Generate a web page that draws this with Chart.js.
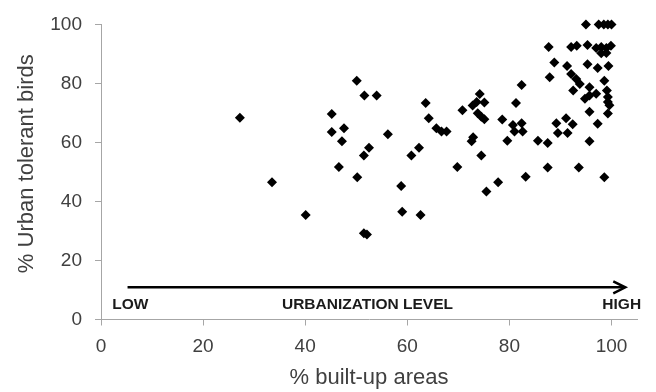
<!DOCTYPE html>
<html>
<head>
<meta charset="utf-8">
<script src="https://cdn.jsdelivr.net/npm/chart.js@4.4.1/dist/chart.umd.min.js"></script>
<style>
  html, body { margin: 0; padding: 0; background: #ffffff; }
  #wrap { width: 656px; height: 392px; position: relative; }
</style>
</head>
<body>
<div id="wrap"><canvas id="chart" width="656" height="392"></canvas></div>
<script>
// % of built-up area around each site
const builtUp = [
  27.2, 33.5, 40.1, 45.2, 45.2, 47.6, 47.2, 46.6, 50.1, 51.6,
  54.0, 52.5, 51.5, 56.2, 50.2, 51.5, 52.1, 58.8, 59.0, 62.6,
  60.8, 62.3, 63.6, 64.2, 65.7, 66.7, 67.7, 69.8, 70.8, 72.8,
  73.6, 74.2, 75.1, 73.8, 74.5, 75.1, 72.9, 72.6, 74.5, 75.5,
  77.8, 78.6, 79.6, 80.7, 82.4, 81.0, 82.6, 81.3, 82.4, 83.2,
  85.6, 87.5, 87.5, 87.7, 87.9, 88.8, 89.2, 89.5, 91.1, 91.4,
  92.4, 91.3, 92.1, 93.1, 93.8, 92.5, 93.6, 92.1, 93.2, 95.3,
  97.0, 98.0, 99.0, 99.9, 98.0, 99.0, 95.3, 97.3, 99.4, 95.0,
  97.5, 98.5, 99.3, 100, 95.7, 98.6, 94.8, 95.7, 97.0, 99.1,
  99.3, 99.3, 99.6, 95.7, 99.3, 97.3, 95.7, 98.6
];

// % of urban-tolerant bird species at the same sites
const tolerantBirds = [
  68.4, 46.5, 35.4, 69.6, 63.5, 64.8, 60.4, 51.7, 80.9, 75.9,
  75.9, 58.2, 55.6, 62.8, 48.2, 29.2, 28.8, 45.2, 36.5, 35.4,
  55.6, 58.2, 73.4, 68.2, 64.8, 63.7, 63.7, 51.7, 70.9, 72.5,
  73.7, 76.4, 73.5, 69.9, 68.7, 67.9, 61.8, 60.4, 55.6, 43.4,
  46.5, 67.8, 60.6, 65.9, 66.5, 63.7, 63.7, 73.4, 79.5, 48.4,
  60.6, 59.8, 51.5, 92.3, 82.1, 87.1, 66.5, 63.2, 68.2, 63.2,
  66.2, 85.9, 83.2, 81.5, 79.8, 77.6, 51.5, 92.3, 92.8, 93.0,
  92.0, 92.3, 92.0, 92.8, 90.2, 90.3, 86.5, 85.2, 85.9, 100,
  100, 100, 100, 100, 78.7, 80.9, 74.8, 75.9, 76.5, 77.6,
  75.4, 73.7, 72.6, 70.4, 69.8, 66.3, 60.4, 48.2
];

const xTickValues = [0, 20, 40, 60, 80, 100];
const yTickValues = [0, 20, 40, 60, 80, 100];

const xTitle = '% built-up areas';
const yTitle = '% Urban tolerant birds';
const levelLabels = ['LOW', 'URBANIZATION LEVEL', 'HIGH'];

const AXIS_GREY = '#a6a6a6';
const TEXT_GREY = '#404040';
const FONT = '"Liberation Sans", Arial, sans-serif';

// Urbanization-level arrow along the bottom of the plot, in axis units
const arrowSpec = { from: 5.2, to: 102.7, at: 10.9 };
const levelSpec = [
  { x: 2.2, align: 'left' },
  { x: 52.2, align: 'center' },
  { x: 105.8, align: 'right' }
];
const levelY = 5.0;
// vertical title sits slightly above the middle of the value axis
const yTitleAt = { px: 27, value: 52.8 };

const urbanArrow = {
  id: 'urbanArrow',
  afterDatasetsDraw(chart) {
    const { ctx, scales: { x, y } } = chart;
    const x0 = x.getPixelForValue(arrowSpec.from);
    const x1 = x.getPixelForValue(arrowSpec.to);
    const yy = y.getPixelForValue(arrowSpec.at);
    ctx.save();
    ctx.strokeStyle = '#000';
    ctx.lineWidth = 2.5;
    ctx.lineCap = 'butt';
    ctx.beginPath();
    ctx.moveTo(x0, yy);
    ctx.lineTo(x1 - 1, yy);
    ctx.stroke();
    ctx.lineJoin = 'miter';
    ctx.beginPath();
    ctx.moveTo(x1 - 12, yy - 6);
    ctx.lineTo(x1, yy);
    ctx.lineTo(x1 - 12, yy + 6);
    ctx.stroke();

    ctx.fillStyle = '#1a1a1a';
    ctx.font = 'bold 15.5px ' + FONT;
    ctx.textBaseline = 'middle';
    const ly = y.getPixelForValue(levelY);
    levelLabels.forEach((t, i) => {
      ctx.textAlign = levelSpec[i].align;
      ctx.fillText(t, x.getPixelForValue(levelSpec[i].x), ly);
    });

    // rotated value-axis title
    ctx.save();
    ctx.translate(yTitleAt.px, y.getPixelForValue(yTitleAt.value));
    ctx.rotate(-Math.PI / 2);
    ctx.fillStyle = TEXT_GREY;
    ctx.font = '22px ' + FONT;
    ctx.textAlign = 'center';
    ctx.textBaseline = 'middle';
    ctx.fillText(yTitle, 0, 0);
    ctx.restore();

    ctx.restore();
  }
};

const points = builtUp.map((v, i) => ({ x: v, y: tolerantBirds[i] }));

new Chart(document.getElementById('chart'), {
  type: 'scatter',
  data: {
    datasets: [{
      data: points,
      clip: false,
      pointStyle: 'rectRot',
      pointRadius: 5,
      pointHoverRadius: 5,
      backgroundColor: '#000',
      borderColor: '#000',
      borderWidth: 0
    }]
  },
  options: {
    responsive: false,
    animation: false,
    devicePixelRatio: 1,
    layout: { padding: { left: 0, right: 19, top: 20, bottom: 0 } },
    plugins: { legend: { display: false }, tooltip: { enabled: false } },
    scales: {
      x: {
        type: 'linear',
        min: 0,
        max: 105,
        afterBuildTicks(scale) { scale.ticks = xTickValues.map(v => ({ value: v })); },
        afterFit(scale) { scale.height = 72.5; },
        grid: { drawOnChartArea: false, color: AXIS_GREY, tickLength: 6 },
        border: { display: true, color: AXIS_GREY, width: 1 },
        ticks: {
          color: TEXT_GREY,
          font: { family: FONT, size: 19 },
          padding: 10,
          maxRotation: 0
        },
        title: {
          display: true,
          text: xTitle,
          color: TEXT_GREY,
          font: { family: FONT, size: 22 },
          padding: { top: 0, bottom: 1 }
        }
      },
      y: {
        type: 'linear',
        min: 0,
        max: 100,
        afterBuildTicks(scale) { scale.ticks = yTickValues.map(v => ({ value: v })); },
        afterFit(scale) { scale.width = 101; },
        grid: { drawOnChartArea: false, color: AXIS_GREY, tickLength: 6 },
        border: { display: true, color: AXIS_GREY, width: 1 },
        ticks: {
          color: TEXT_GREY,
          font: { family: FONT, size: 19 },
          padding: 13
        },
        title: { display: false }
      }
    }
  },
  plugins: [urbanArrow]
});
</script>
</body>
</html>
